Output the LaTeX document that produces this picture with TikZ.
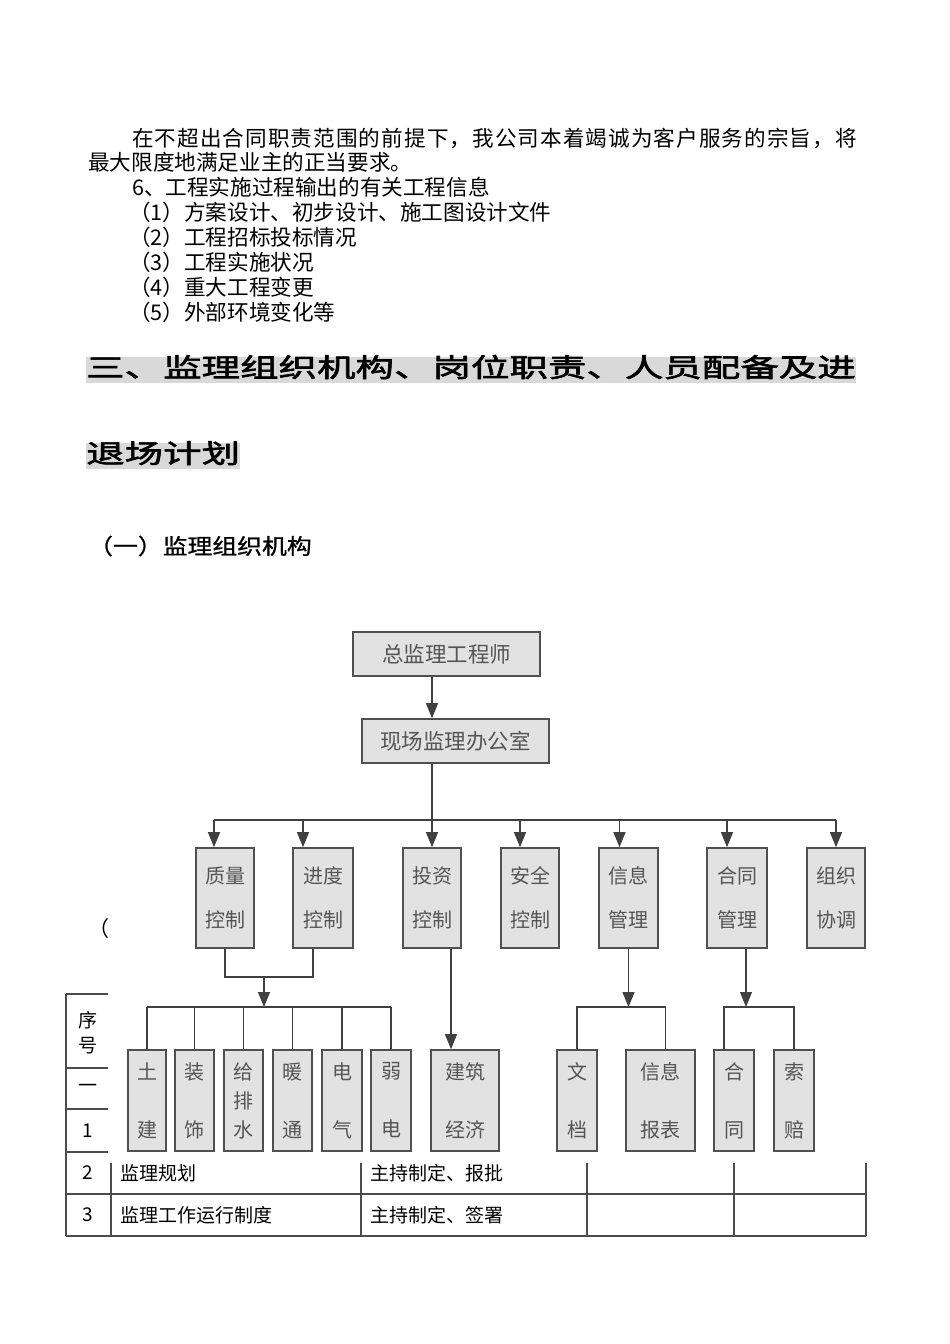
\documentclass[tikz,border=0pt]{standalone}
\usepackage{fontspec}
\setmainfont{Noto Sans CJK SC}
\newfontfamily\headfont[FakeStretch=1.48,FakeBold=2.5]{Noto Sans CJK SC}
\newfontfamily\subfont[FakeStretch=1.15,FakeBold=1]{Noto Sans CJK SC}
\usepackage{tikz}
\usetikzlibrary{positioning,arrows.meta}

\definecolor{boxfill}{HTML}{E2E2E2}
\definecolor{boxline}{HTML}{505050}
\definecolor{chartink}{HTML}{555555}
\definecolor{hilite}{HTML}{D9D9D9}

\tikzset{
  orgbox/.style={draw=boxline, fill=boxfill, line width=1.6pt, inner sep=0pt,
    text=chartink, align=center, font=\fontsize{20}{29}\selectfont},
  widebox/.style={orgbox, minimum width=187pt, minimum height=44pt,
    font=\fontsize{21.5}{25}\selectfont},
  tallbox/.style={orgbox, minimum width=#1, minimum height=100pt},
  lowbox/.style={orgbox, minimum width=#1, minimum height=101pt},
  link/.style={draw=black!75, line width=1.2pt},
  arr/.style={link, -{Triangle[length=15pt,width=12pt]}},
  bodytext/.style={anchor=west, inner sep=0pt, font=\fontsize{21.6}{25}\selectfont},
  headtext/.style={anchor=west, inner sep=0pt, fill=hilite, text height=20pt,
    text depth=6pt, font=\headfont\fontsize{26}{30}\selectfont},
  cell/.style={inner sep=0pt, align=center, font=\fontsize{19}{25}\selectfont},
  tabline/.style={draw=black!70, line width=1.2pt},
}

\begin{document}
\begin{tikzpicture}[x=1pt,y=-1pt]
  \fill[white] (0,0) rectangle (950,1344);
  \useasboundingbox (0,0) rectangle (950,1344);

  % text above the chart
  \node[bodytext] (para1) at (132,138)
    {\addfontfeature{LetterSpace=5}在不超出合同职责范围的前提下，我公司本着竭诚为客户服务的宗旨，将};
  \node[bodytext] (para2) at (88,162) {最大限度地满足业主的正当要求。};
  \node[bodytext] (item6) at (132,187) {6、工程实施过程输出的有关工程信息};
  \node[bodytext] (info1) at (129,212) {（1）方案设计、初步设计、施工图设计文件};
  \node[bodytext] (info2) at (129,237) {（2）工程招标投标情况};
  \node[bodytext] (info3) at (129,262) {（3）工程实施状况};
  \node[bodytext] (info4) at (129,287) {（4）重大工程变更};
  \node[bodytext] (info5) at (129,312) {（5）外部环境变化等};

  \node[headtext] (head1) at (86,370) {三、监理组织机构、岗位职责、人员配备及进};
  \node[headtext] (head2) at (86,456) {退场计划};
  \node[anchor=west, inner sep=0pt, font=\subfont\fontsize{21.6}{25}\selectfont]
    (sub1) at (88,546) {（一）监理组织机构};
  \node[anchor=west, inner sep=0pt, font=\fontsize{21}{25}\selectfont] (paren) at (88,929) {（};

  % table under the chart
  \draw[tabline] (66,994) -- (108,994);
  \draw[tabline] (66,1068) -- (108,1068);
  \draw[tabline] (66,1109) -- (108,1109);
  \draw[tabline] (66,1152) -- (108,1152);
  \draw[tabline] (66,994) -- (66,1236);
  \draw[tabline] (66,1194) -- (866,1194);
  \draw[tabline] (66,1236) -- (866,1236);
  \foreach \cx in {111,361,587,734,866}
    \draw[tabline] (\cx,1163) -- (\cx,1236);

  \node[cell] (seq) at (88,1033) {序\\号};
  \node[cell] (row0) at (88,1088) {一};
  \node[cell] (row1) at (88,1131) {1};
  \node[cell] (row2) at (88,1173) {2};
  \node[cell, anchor=west] (row2a) at (120,1173) {监理规划};
  \node[cell, anchor=west] (row2b) at (370,1173) {主持制定、报批};
  \node[cell] (row3) at (88,1215) {3};
  \node[cell, anchor=west] (row3a) at (120,1215) {监理工作运行制度};
  \node[cell, anchor=west] (row3b) at (370,1215) {主持制定、签署};

  % organisation chart
  \node[widebox] (chief) at (446.5,654) {总监理工程师};
  \node[widebox] (office) at (455.5,741) {现场监理办公室};

  \node[tallbox=58pt] (qc) at (225,898) {质量\\[15pt]控制};
  \node[tallbox=60pt] (sc) at (323,898) {进度\\[15pt]控制};
  \node[tallbox=58pt] (ic) at (432,898) {投资\\[15pt]控制};
  \node[tallbox=58pt] (saf) at (530,898) {安全\\[15pt]控制};
  \node[tallbox=59pt] (im) at (628.5,898) {信息\\[15pt]管理};
  \node[tallbox=60pt] (cm) at (737,898) {合同\\[15pt]管理};
  \node[tallbox=58pt] (oc) at (836,898) {组织\\[15pt]协调};

  \node[lowbox=38pt] (tj) at (147,1100.5) {土\\[29pt]建};
  \node[lowbox=39pt] (zs) at (194.5,1100.5) {装\\[29pt]饰};
  \node[lowbox=39pt] (gps) at (243.5,1100.5) {给\\排\\水};
  \node[lowbox=39pt] (nt) at (292.5,1100.5) {暖\\[29pt]通};
  \node[lowbox=40pt] (dq) at (342,1100.5) {电\\[29pt]气};
  \node[lowbox=40pt] (rd) at (391,1100.5) {弱\\[29pt]电};
  \node[lowbox=68pt] (jj) at (465,1100.5) {建筑\\[29pt]经济};
  \node[lowbox=40pt] (wd) at (577,1100.5) {文\\[29pt]档};
  \node[lowbox=69pt] (xb) at (660.5,1100.5) {信息\\[29pt]报表};
  \node[lowbox=40pt] (ht) at (734,1100.5) {合\\[29pt]同};
  \node[lowbox=40pt] (sp) at (794,1100.5) {索\\[29pt]赔};

  \coordinate (spine) at (432,0);
  \coordinate (bus1) at (0,820);
  \coordinate (join1) at (264,977);
  \coordinate (bus2) at (0,1007);

  \draw[arr] (chief.south -| spine) -- (office.north -| spine);
  \draw[link] (office.south -| spine) -- (spine |- bus1);
  \draw[link] ([xshift=-11pt]qc.north |- bus1) -- (oc.north |- bus1);
  \foreach \n/\dx in {qc/-11,sc/-20,ic/0,saf/-10,im/-9,cm/-10,oc/0}
    \draw[arr] ([xshift=\dx pt]\n.north |- bus1) -- ([xshift=\dx pt]\n.north);

  \draw[link] (qc.south) |- (join1) -| ([xshift=-10pt]sc.south);
  \draw[arr] (join1) -- (join1 |- bus2);
  \draw[link] (tj.north |- bus2) -- (rd.north |- bus2);
  \foreach \n in {tj,zs,gps,nt,dq,rd}
    \draw[link] (\n.north |- bus2) -- (\n.north);

  \draw[arr] ([xshift=19pt]ic.south) -- ([xshift=-14pt]jj.north);

  \draw[arr] (im.south) -- (im.south |- bus2);
  \draw[link] (wd.north) |- ([xshift=5pt]xb.north |- bus2) -- ([xshift=5pt]xb.north);

  \draw[arr] ([xshift=9pt]cm.south) -- ([xshift=9pt]cm.south |- bus2);
  \draw[link] ([xshift=-10pt]ht.north) |- (sp.north |- bus2) -- (sp.north);
\end{tikzpicture}
\end{document}
